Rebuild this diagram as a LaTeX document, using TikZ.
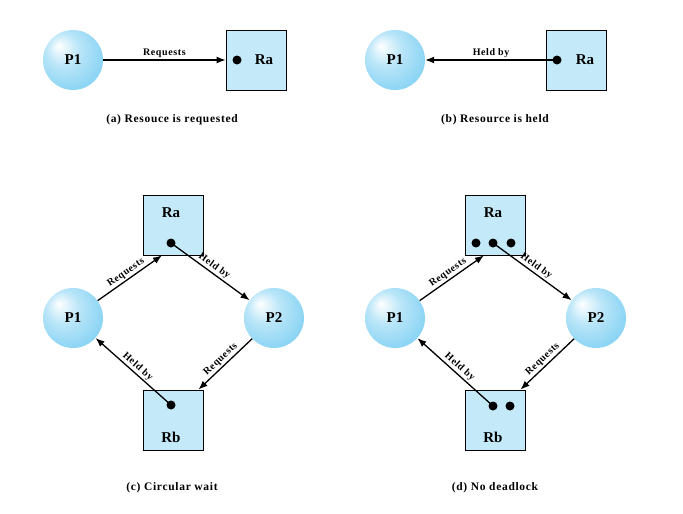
\documentclass[tikz,border=0pt]{standalone}
\usepackage{fontspec}
\usetikzlibrary{arrows.meta}
\setmainfont{Liberation Serif}
\newfontfamily\lblfont[LetterSpace=6]{Liberation Serif}

\definecolor{resfill}{RGB}{196,234,250}
\definecolor{procblue}{RGB}{100,198,240}
\pgfdeclareradialshading{procball}{\pgfpoint{-12bp}{12bp}}{color(0bp)=(white); color(14bp)=(procblue!45); color(36bp)=(procblue!85); color(50bp)=(procblue)}

\tikzset{
  proc/.style={circle, minimum size=60pt, inner sep=0pt, shading=procball, font=\fontsize{15}{17}\selectfont\bfseries},
  res/.style={rectangle, draw, line width=0.8pt, fill=resfill, minimum size=60pt, inner sep=0pt},
  resdot/.style={circle, fill=black, inner sep=0pt, minimum size=9pt},
  rname/.style={font=\fontsize{15}{17}\selectfont\bfseries},
  lbl/.style={font=\lblfont\fontsize{10}{12}\selectfont\bfseries, midway, sloped, above, inner sep=1.5pt},
  captxt/.style={font=\lblfont\fontsize{11.5}{13}\selectfont\bfseries},
  arr/.style={->, line width=1.3pt}
}

\begin{document}
\begin{tikzpicture}[x=1pt, y=-1pt, >={Latex[length=9pt,width=7pt]}]
    \useasboundingbox (0,0) rectangle (683,514);

    % (a)
    \node[proc] (p1a) at (73,60) {P1};
    \node[res] (raa) at (256,60) {};
    \node[resdot] (da) at (237,60) {};
    \node[rname] (tra) at (264,60) {Ra};
    \draw[arr] (p1a) -- (raa) node[lbl] {Requests};
    \node[captxt] (capa) at (172,120) {(a) Resouce is requested};

    % (b)
    \node[proc] (p1b) at (395,60) {P1};
    \node[res] (rab) at (576,60) {};
    \node[resdot] (db) at (557,60) {};
    \node[rname] (trb) at (585,60) {Ra};
    \draw[arr] (db.center) -- (p1b) node[lbl] {Held by};
    \node[captxt] (capb) at (495,120) {(b) Resource is held};

    % (c)
    \node[res] (rac) at (173,225) {};
    \node[rname] (trac) at (171,213) {Ra};
    \node[resdot] (dac) at (171,243) {};
    \node[proc] (p1c) at (73,318) {P1};
    \node[proc] (p2c) at (274,318) {P2};
    \node[res] (rbc) at (173,420) {};
    \node[resdot] (dbc) at (171,405) {};
    \node[rname] (trbc) at (171,437) {Rb};
    \draw[arr] (p1c) -- (rac.-110) node[lbl] {Requests};
    \draw[arr] (dac.center) -- (p2c) node[lbl] {Held by};
    \draw[arr] (p2c) -- (rbc.50) node[lbl] {Requests};
    \draw[arr] (dbc.center) -- (p1c) node[lbl] {Held by};
    \node[captxt] (capc) at (172,488) {(c) Circular wait};

    % (d)
    \node[res] (rad) at (495,225) {};
    \node[rname] (trad) at (493,213) {Ra};
    \node[resdot] (dad1) at (476,243) {};
    \node[resdot] (dad2) at (493,243) {};
    \node[resdot] (dad3) at (511,243) {};
    \node[proc] (p1d) at (395,318) {P1};
    \node[proc] (p2d) at (596,318) {P2};
    \node[res] (rbd) at (495,420) {};
    \node[resdot] (dbd1) at (493,406) {};
    \node[resdot] (dbd2) at (510,406) {};
    \node[rname] (trbd) at (493,437) {Rb};
    \draw[arr] (p1d) -- (rad.-110) node[lbl] {Requests};
    \draw[arr] (dad2.center) -- (p2d) node[lbl] {Held by};
    \draw[arr] (p2d) -- (rbd.50) node[lbl] {Requests};
    \draw[arr] (dbd1.center) -- (p1d) node[lbl] {Held by};
    \node[captxt] (capd) at (495,488) {(d) No deadlock};

\end{tikzpicture}
\end{document}
